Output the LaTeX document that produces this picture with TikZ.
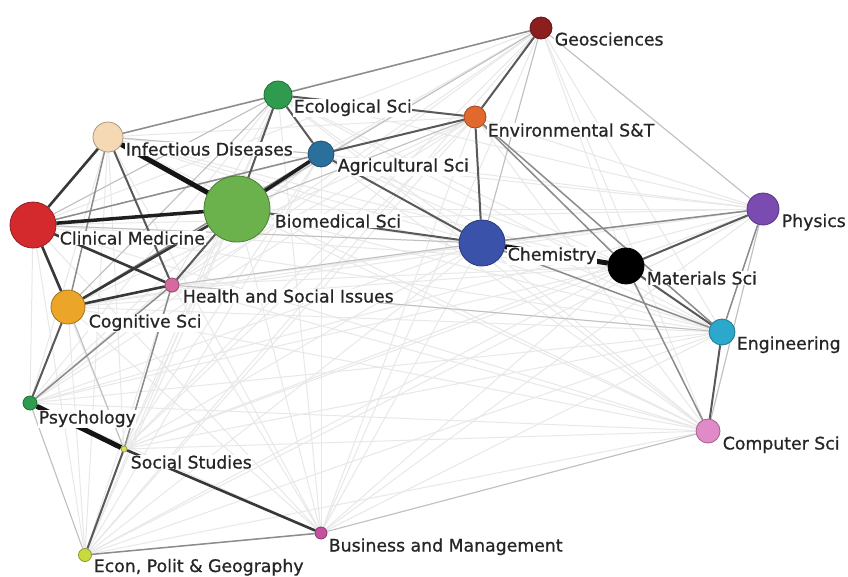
\documentclass[tikz,border=0pt]{standalone}
\usepackage{fontspec}
\setmainfont[FakeBold=0.8]{DejaVu Sans}
\newfontfamily\lblfont[FakeBold=0.8]{DejaVu Sans}
\pgfdeclarelayer{bg}
\pgfsetlayers{bg,main}
\definecolor{cGeo}{HTML}{8B1E1E}
\definecolor{cEco}{HTML}{2E9B4E}
\definecolor{cEnv}{HTML}{E2692E}
\definecolor{cInf}{HTML}{F5D9B5}
\definecolor{cAgr}{HTML}{2B6F9C}
\definecolor{cCli}{HTML}{D42A2E}
\definecolor{cBio}{HTML}{6BB24C}
\definecolor{cChe}{HTML}{3A52AA}
\definecolor{cMat}{HTML}{000000}
\definecolor{cPhy}{HTML}{7A4BB0}
\definecolor{cHea}{HTML}{D46A9E}
\definecolor{cCog}{HTML}{EBA62A}
\definecolor{cEng}{HTML}{2BA8CB}
\definecolor{cPsy}{HTML}{2E9B4E}
\definecolor{cSoc}{HTML}{D8E060}
\definecolor{cCom}{HTML}{E08AC8}
\definecolor{cBus}{HTML}{C4509E}
\definecolor{cEcn}{HTML}{C8DA40}
\tikzset{
  vtx/.style 2 args={circle, inner sep=0pt, minimum size=#1, fill=#2, draw=#2!70!black, line width=0.8pt},
  lbl/.style={anchor=base west, inner sep=0.6pt, fill=white, font=\lblfont\fontsize{17.3}{18}\selectfont, text=black!85},
  efaint/.style={line width=1pt, draw=black!9},
  ezero/.style={line width=1pt, draw=black!25},
  eone/.style={line width=1.5pt, draw=black!45},
  etwo/.style={line width=2pt, draw=black!65},
  ethree/.style={line width=2.6pt, draw=black!78},
  efour/.style={line width=3.5pt, draw=black!88},
  efive/.style={line width=5pt, draw=black!92},
}
\begin{document}
\begin{tikzpicture}[x=1pt,y=-1pt]
\useasboundingbox (0,0) rectangle (848,576);
% nodes
\node[vtx={22pt}{cGeo}] (geo) at (541,28) {};
\node[vtx={28pt}{cEco}] (eco) at (278,95) {};
\node[vtx={22pt}{cEnv}] (env) at (475,117) {};
\node[vtx={30pt}{cInf}] (inf) at (108,137) {};
\node[vtx={26pt}{cAgr}] (agr) at (321,154) {};
\node[vtx={46pt}{cCli}] (cli) at (33,225) {};
\node[vtx={66pt}{cBio}] (bio) at (237,209) {};
\node[vtx={46pt}{cChe}] (che) at (482,243) {};
\node[vtx={36pt}{cMat}] (mat) at (626,266) {};
\node[vtx={32pt}{cPhy}] (phy) at (763,209) {};
\node[vtx={14pt}{cHea}] (hea) at (172,285) {};
\node[vtx={34pt}{cCog}] (cog) at (68,307) {};
\node[vtx={26pt}{cEng}] (eng) at (722,332) {};
\node[vtx={14pt}{cPsy}] (psy) at (30,403) {};
\node[vtx={6pt}{cSoc}] (soc) at (124,449) {};
\node[vtx={24pt}{cCom}] (com) at (708,431) {};
\node[vtx={12pt}{cBus}] (bus) at (321,533) {};
\node[vtx={13pt}{cEcn}] (ecn) at (85,555) {};
% labels
\node[lbl] (geo-l) at (554,45.5) {Geosciences};
\node[lbl] (eco-l) at (293,112.5) {Ecological Sci};
\node[lbl] (env-l) at (487,136.5) {Environmental S\&T};
\node[lbl] (inf-l) at (125,155.5) {Infectious Diseases};
\node[lbl] (agr-l) at (337,171.5) {Agricultural Sci};
\node[lbl] (bio-l) at (274,227.5) {Biomedical Sci};
\node[lbl] (cli-l) at (59,244.5) {Clinical Medicine};
\node[lbl] (che-l) at (507,260.5) {Chemistry};
\node[lbl] (mat-l) at (646,284.5) {Materials Sci};
\node[lbl] (phy-l) at (781,227) {Physics};
\node[lbl] (hea-l) at (182,302.5) {Health and Social Issues};
\node[lbl] (cog-l) at (88,327.5) {Cognitive Sci};
\node[lbl] (eng-l) at (736,349.5) {Engineering};
\node[lbl] (psy-l) at (38,423.5) {Psychology};
\node[lbl] (soc-l) at (130,468.5) {Social Studies};
\node[lbl] (com-l) at (722,449.5) {Computer Sci};
\node[lbl] (bus-l) at (328,551.5) {Business and Management};
\node[lbl] (ecn-l) at (93,572) {Econ, Polit \& Geography};
% edges
\begin{pgfonlayer}{bg}
\fill[white] (0,0) rectangle (848,576);
\foreach \a [count=\i] in {geo,eco,env,inf,agr,cli,bio,che,mat,phy,hea,cog,eng,psy,soc,com,bus,ecn}{
  \foreach \b [count=\j] in {geo,eco,env,inf,agr,cli,bio,che,mat,phy,hea,cog,eng,psy,soc,com,bus,ecn}{
    \ifnum\i<\j \draw[efaint] (\a) -- (\b); \fi
  }
}
\foreach \a/\b in {bus/com, cog/soc, phy/com, bio/env, cli/eco, psy/ecn, geo/phy, geo/che, hea/che, inf/agr, cog/eco, cli/che, hea/eng, geo/bio}
  \draw[ezero] (\a) -- (\b);
\foreach \a/\b in {inf/eco, eco/geo, che/phy, env/mat, env/eng, che/eng, mat/com, ecn/bus, hea/soc, psy/hea, inf/cog, cli/agr, phy/eng, cog/agr}
  \draw[eone] (\a) -- (\b);
\foreach \a/\b in {cog/psy, inf/hea, eco/agr, eco/bio, eco/env, env/geo, env/che, mat/phy, mat/eng, eng/com, agr/che, bio/che, soc/ecn, bio/hea, agr/env}
  \draw[etwo] (\a) -- (\b);
\foreach \a/\b in {cli/hea, cog/bio, cli/inf, cli/cog, cog/hea, soc/bus}
  \draw[ethree] (\a) -- (\b);
\foreach \a/\b in {bio/agr, cli/bio}
  \draw[efour] (\a) -- (\b);
\foreach \a/\b in {inf/bio, psy/soc, che/mat}
  \draw[efive] (\a) -- (\b);
\end{pgfonlayer}
\end{tikzpicture}
\end{document}
